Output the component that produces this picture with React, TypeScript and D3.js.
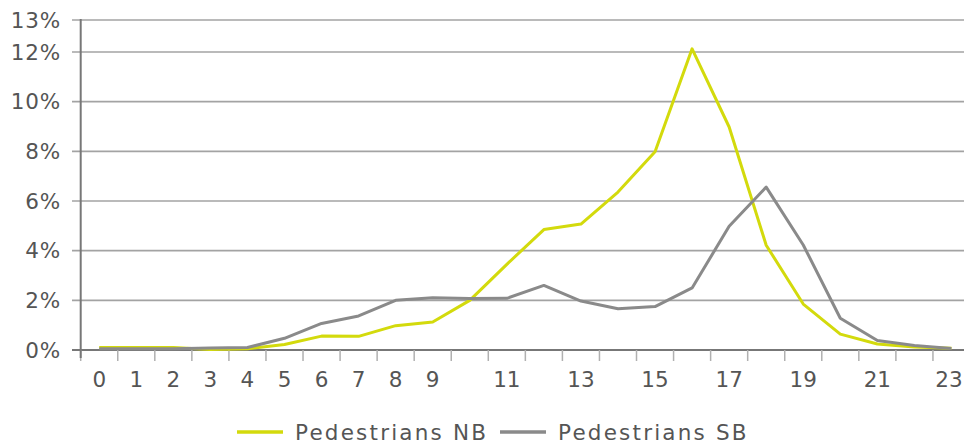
import React from "react";
import * as d3 from "d3";

const hours = d3.range(0, 24).map(String);
const shownHourLabels = ["0","1","2","3","4","5","6","7","8","9","11","13","15","17","19","21","23"];
const pedestriansNB = [0.1, 0.1, 0.1, 0.02, 0.05, 0.22, 0.56, 0.55, 0.98, 1.13, 2.0, 3.45, 4.85, 5.07, 6.36, 7.98, 12.1, 8.98, 4.22, 1.85, 0.64, 0.24, 0.12, 0.07];
const pedestriansSB = [0.05, 0.05, 0.05, 0.08, 0.1, 0.47, 1.07, 1.37, 2.0, 2.1, 2.07, 2.08, 2.6, 1.97, 1.66, 1.75, 2.5, 4.98, 6.56, 4.23, 1.28, 0.38, 0.18, 0.06];
const yTicks = [0, 2, 4, 6, 8, 10, 12, 13];

const seriesNames = ["Pedestrians NB", "Pedestrians SB"];
const seriesColors = ["#d3da0c", "#8a8a8a"];

export default function App() {
  const W = 964, H = 445;
  const x = d3.scaleBand<string>().domain(hours).range([80.7, 970]);
  const y = d3.scaleLinear().domain([0, 12, 13]).range([350, 52, 20]);
  const line = d3
    .line<number>()
    .x((_, i) => (x(hours[i]) as number) + x.bandwidth() / 2)
    .y((d) => y(d));
  const font = "'DejaVu Sans', Verdana, sans-serif";
  const series = [pedestriansNB, pedestriansSB];
  const legendX = [237, 500];
  return (
    <svg width={W} height={H} style={{ position: "absolute", left: 0, top: 0, background: "#fff" }} fontFamily={font}>
      {yTicks.map((t) => (
        <g key={t}>
          <line x1={72} x2={W} y1={y(t)} y2={y(t)} stroke={t === 0 ? "#777" : "#a3a3a3"} strokeWidth={t === 0 ? 2 : 1.6} />
          <text x={61} y={y(t)} dy="0.36em" textAnchor="end" fontSize={21.5} fill="#555" letterSpacing={0.8}>
            {t}%
          </text>
        </g>
      ))}
      {d3.range(0, 24).map((i) => (
        <line key={i} x1={x(hours[i])} x2={x(hours[i])} y1={350} y2={361} stroke="#b0b0b0" strokeWidth={1.5} />
      ))}
      <line x1={80.7} x2={80.7} y1={19} y2={358} stroke="#777" strokeWidth={2} />
      {shownHourLabels.map((h) => (
        <text key={h} x={Math.min((x(h) as number) + x.bandwidth() / 2, W - 15)} y={387} textAnchor="middle" fontSize={21.5} fill="#555">
          {h}
        </text>
      ))}
      {series.map((s, k) => (
        <path key={k} d={line(s) as string} fill="none" stroke={seriesColors[k]} strokeWidth={3} strokeLinejoin="round" />
      ))}
      {seriesNames.map((n, k) => (
        <g key={n}>
          <line x1={legendX[k]} x2={legendX[k] + 46} y1={432} y2={432} stroke={seriesColors[k]} strokeWidth={3.5} />
          <text x={legendX[k] + 58} y={440} fontSize={21.5} fill="#555" letterSpacing={2.2}>
            {n}
          </text>
        </g>
      ))}
    </svg>
  );
}
